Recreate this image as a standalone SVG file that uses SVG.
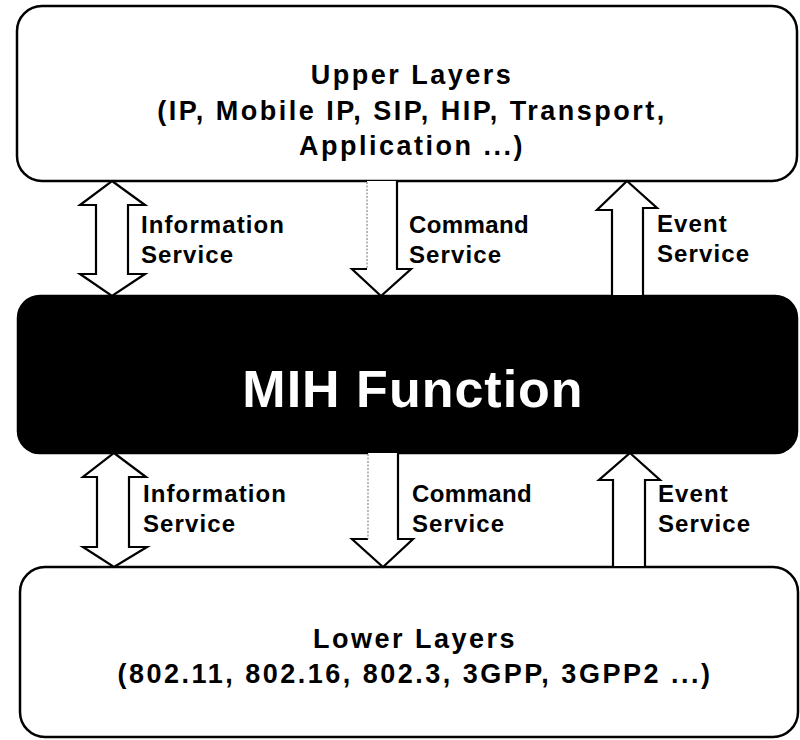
<svg xmlns="http://www.w3.org/2000/svg" width="800" height="740" viewBox="0 0 800 740">
  <style>
    .box { fill: #ffffff; stroke: #000000; stroke-width: 2.5; }
    .core { fill: #000000; stroke: #000000; stroke-width: 2.5; }
    .title { font-family: "Liberation Sans", Arial, sans-serif; font-weight: bold; font-size: 27px; letter-spacing: 2.5px; fill: #000000; text-anchor: middle; }
    .core-title { font-family: "Liberation Sans", Arial, sans-serif; font-weight: bold; font-size: 52px; letter-spacing: 1px; fill: #ffffff; text-anchor: middle; }
    .label { font-family: "Liberation Sans", Arial, sans-serif; font-weight: bold; font-size: 24px; letter-spacing: 1.1px; fill: #000000; }
    .label.tight { letter-spacing: 0.4px; }
    .arrow { fill: #ffffff; stroke: #000000; stroke-width: 2.2; stroke-linejoin: miter; }
    .arrow-edge { fill: none; stroke: #000000; stroke-width: 2.2; stroke-linejoin: miter; }
    .faint { fill: none; stroke: #8a8a8a; stroke-width: 1.2; stroke-dasharray: 2 1.5; }
  </style>

  <!-- Upper layers -->
  <g id="upper-layers">
    <rect class="box" x="17" y="6" width="780" height="175" rx="25" ry="25"/>
    <text class="title" x="412" y="84">Upper Layers</text>
    <text class="title" x="412" y="120">(IP, Mobile IP, SIP, HIP, Transport,</text>
    <text class="title" x="412" y="155">Application ...)</text>
  </g>

  <!-- MIH function -->
  <g id="mih-function">
    <rect class="core" x="18" y="296" width="779" height="157" rx="22" ry="22"/>
    <text class="core-title" x="413" y="407">MIH Function</text>
  </g>

  <!-- Lower layers -->
  <g id="lower-layers">
    <rect class="box" x="20" y="567" width="778" height="170" rx="25" ry="25"/>
    <text class="title" x="415" y="648">Lower Layers</text>
    <text class="title" x="415" y="683">(802.11, 802.16, 802.3, 3GPP, 3GPP2 ...)</text>
  </g>

  <!-- Service primitives between layers -->
  <g id="connectors">
    <!-- upper: information service (bidirectional) -->
    <polygon class="arrow" points="112,181 145,205 128,205 128,274 145,274 112,296 80,274 96,274 96,205 80,205"/>
    <!-- upper: command service (down) -->
    <polygon points="367,181 397,181 397,269 411,269 381,296 352,269 367,269" fill="#ffffff" stroke="none"/>
    <path class="arrow-edge" d="M397,181 L397,269 L411,269 L381,296 L352,269 L367,269"/>
    <line class="faint" x1="367" y1="182" x2="367" y2="269"/>
    <!-- upper: event service (up) -->
    <polygon class="arrow" points="627,181 657,208 643,208 643,296 612,296 612,210 597,210"/>

    <!-- lower: information service (bidirectional) -->
    <polygon class="arrow" points="114,453 146,477 129,477 129,547 147,547 114,567 83,547 97,547 97,477 83,477"/>
    <!-- lower: command service (down) -->
    <polygon points="368,453 398,453 398,539 413,539 383,567 352,539 368,539" fill="#ffffff" stroke="none"/>
    <path class="arrow-edge" d="M398,453 L398,539 L413,539 L383,567 L352,539 L368,539"/>
    <line class="faint" x1="368" y1="454" x2="368" y2="539"/>
    <!-- lower: event service (up) -->
    <polygon class="arrow" points="630,453 660,480 645,480 645,567 613,567 613,480 599,480"/>
  </g>

  <!-- Connector labels -->
  <g id="labels">
    <text class="label" x="141" y="233">Information</text>
    <text class="label" x="141" y="263">Service</text>
    <text class="label tight" x="409" y="233">Command</text>
    <text class="label" x="409" y="263">Service</text>
    <text class="label" x="657" y="232">Event</text>
    <text class="label" x="657" y="262">Service</text>

    <text class="label" x="143" y="502">Information</text>
    <text class="label" x="143" y="532">Service</text>
    <text class="label tight" x="412" y="502">Command</text>
    <text class="label" x="412" y="532">Service</text>
    <text class="label" x="658" y="502">Event</text>
    <text class="label" x="658" y="532">Service</text>
  </g>
</svg>
